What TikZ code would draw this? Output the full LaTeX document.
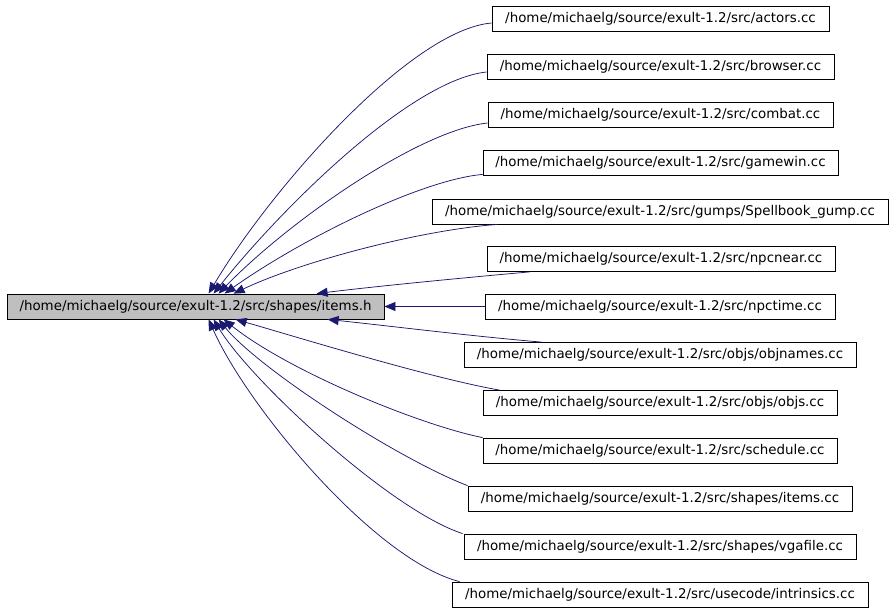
\documentclass[tikz,border=0pt]{standalone}
\usepackage{fontspec}
\setmainfont{DejaVu Sans}
\usetikzlibrary{arrows.meta,calc}
\definecolor{edgeblue}{HTML}{191970}
\definecolor{mainfill}{HTML}{BFBFBF}
\tikzset{
  filebox/.style={draw=black, line width=0.8pt, inner sep=0pt, minimum height=25pt,
    font=\fontsize{13.4}{16}\selectfont, anchor=center},
  mainbox/.style={filebox, fill=mainfill},
  dep/.style={draw=edgeblue, line width=0.75pt, -{Triangle[length=11pt,width=9pt]}}
}
\begin{document}
\begin{tikzpicture}[x=1pt,y=-1pt]
\useasboundingbox (0,0) rectangle (893,611);
\node[mainbox, minimum width=377pt] (main) at (195.5,306.5) {/home/michaelg/source/exult-1.2/src/shapes/items.h};
\node[filebox, minimum width=337pt] (actors) at (660.5,18.5) {/home/michaelg/source/exult-1.2/src/actors.cc};
\node[filebox, minimum width=347pt] (browser) at (660.5,66.5) {/home/michaelg/source/exult-1.2/src/browser.cc};
\node[filebox, minimum width=345pt] (combat) at (660.5,114.5) {/home/michaelg/source/exult-1.2/src/combat.cc};
\node[filebox, minimum width=355pt] (gamewin) at (660.5,162.5) {/home/michaelg/source/exult-1.2/src/gamewin.cc};
\node[filebox, minimum width=456pt] (spell) at (660,211.5) {/home/michaelg/source/exult-1.2/src/gumps/Spellbook\_gump.cc};
\node[filebox, minimum width=348pt] (npcnear) at (661,259) {/home/michaelg/source/exult-1.2/src/npcnear.cc};
\node[filebox, minimum width=350pt] (npctime) at (660,306.5) {/home/michaelg/source/exult-1.2/src/npctime.cc};
\node[filebox, minimum width=392pt] (objnames) at (660,355) {/home/michaelg/source/exult-1.2/src/objs/objnames.cc};
\node[filebox, minimum width=354pt] (objs) at (660,403) {/home/michaelg/source/exult-1.2/src/objs/objs.cc};
\node[filebox, minimum width=354pt] (schedule) at (660,450.5) {/home/michaelg/source/exult-1.2/src/schedule.cc};
\node[filebox, minimum width=384pt] (itemscc) at (660,498.5) {/home/michaelg/source/exult-1.2/src/shapes/items.cc};
\node[filebox, minimum width=392pt] (vgafile) at (660,546.5) {/home/michaelg/source/exult-1.2/src/shapes/vgafile.cc};
\node[filebox, minimum width=416pt] (intrinsics) at (660,594.5) {/home/michaelg/source/exult-1.2/src/usecode/intrinsics.cc};

% edges (from dependent file to items.h)
\draw[dep] ($(actors.west)+(0,4.5)$) .. controls (410,30) and (270,190) .. ($(main.north west)+(202,0)$);
\draw[dep] ($(browser.west)+(0,5.5)$) .. controls (410,80) and (280,210) .. ($(main.north west)+(207,0)$);
\draw[dep] ($(combat.west)+(0,8.5)$) .. controls (420,130) and (290,220) .. ($(main.north west)+(212,0)$);
\draw[dep] ($(gamewin.south west)+(0,-1)$) .. controls (420,180) and (300,240) .. ($(main.north west)+(218,0)$);
\draw[dep] ($(spell.south west)+(66,0)$) .. controls (420,230) and (300,262) .. ($(main.north west)+(227,0)$);
\draw[dep] ($(npcnear.south west)+(43,0)$) .. controls (450,279) and (370,287) .. ($(main.north west)+(310,0)$);
\draw[dep] (npctime.west) -- (main.east);
\draw[dep] ($(objnames.north west)+(78,0)$) .. controls (470,336) and (390,326) .. ($(main.south west)+(321,0)$);
\draw[dep] ($(objs.north west)+(17,0)$) .. controls (430,378) and (290,335) .. ($(main.south west)+(229,0)$);
\draw[dep] (schedule.north west) .. controls (420,425) and (290,372) .. ($(main.south west)+(217,0)$);
\draw[dep] (itemscc.north west) .. controls (400,460) and (260,370) .. ($(main.south west)+(212,0)$);
\draw[dep] ($(vgafile.north west)+(-1,0)$) .. controls (390,510) and (250,380) .. ($(main.south west)+(207,0)$);
\draw[dep] ($(intrinsics.north west)+(8,0)$) .. controls (375,560) and (248,408) .. ($(main.south west)+(202,0)$);
\end{tikzpicture}
\end{document}
